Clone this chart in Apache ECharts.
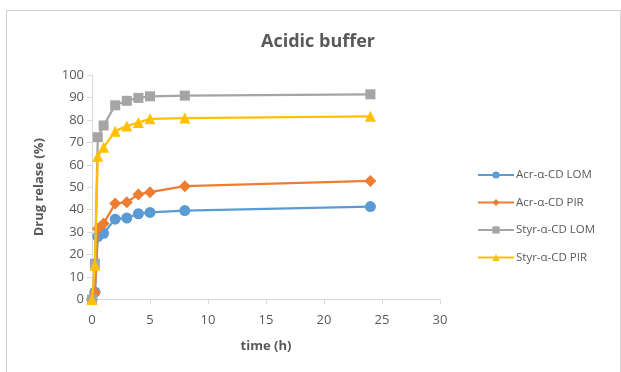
<!DOCTYPE html>
<html><head><meta charset="utf-8">
<script src="https://cdn.jsdelivr.net/npm/echarts@6/dist/echarts.min.js"></script>
<style>
html,body{margin:0;padding:0;background:#fff;}
#frame{position:absolute;left:6px;top:10px;width:613px;height:370px;border:1px solid #d0d0d0;border-right:1px solid #d9d9d9;}
#c{position:absolute;left:0;top:0;width:621px;height:372px;}
</style></head>
<body>
<div id="frame"></div>
<div id="c"></div>
<script>
const times = [0, 0.25, 0.5, 1, 2, 3, 4, 5, 8, 24];
const acrLOM  = [0, 3.3, 28, 29.5, 35.8, 36.3, 38.2, 38.8, 39.6, 41.4];
const acrPIR  = [0, 3.0, 31.5, 33.8, 42.8, 43.3, 46.8, 47.8, 50.5, 52.8];
const styrLOM = [0, 16, 72.3, 77.5, 86.5, 88.5, 89.8, 90.5, 90.8, 91.4];
const styrPIR = [0, 15.3, 63.8, 67.8, 75, 77.3, 78.8, 80.5, 80.8, 81.6];
const seriesNames = ['Acr-α-CD LOM', 'Acr-α-CD PIR', 'Styr-α-CD LOM', 'Styr-α-CD PIR'];
const colors = ['#5B9BD5', '#ED7D31', '#A5A5A5', '#FFC000'];
const symbols = ['circle', 'diamond', 'rect', 'triangle'];
const symbolSizes = [11, 12, 10, 11];
const allData = [acrLOM, acrPIR, styrLOM, styrPIR];

const font = 'Open Sans, Liberation Sans, sans-serif';
const chart = echarts.init(document.getElementById('c'));
chart.setOption({
  animation: false,
  backgroundColor: 'transparent',
  title: {
    text: 'Acidic buffer', left: 313, top: 28, textAlign: 'center',
    textStyle: { fontFamily: font, fontSize: 18, fontWeight: 'bold', color: '#595959' }
  },
  legend: {
    orient: 'vertical', left: 472, top: 164, itemGap: 15.5,
    itemWidth: 36, itemHeight: 9,
    textStyle: { fontFamily: font, fontSize: 11.5, color: '#595959', padding: [0, 0, 0, -3] },
    data: seriesNames
  },
  grid: { left: 92, right: 181, top: 75, bottom: 72.5 },
  xAxis: {
    type: 'value', min: 0, max: 30, interval: 5,
    name: 'time (h)', nameLocation: 'middle', nameGap: 40,
    nameTextStyle: { fontFamily: font, fontSize: 13, fontWeight: 'bold', color: '#595959' },
    axisLine: { show: true, onZero: false, lineStyle: { color: '#d9d9d9', width: 1 } },
    axisTick: { show: true, length: 5, lineStyle: { color: '#d9d9d9' } },
    axisLabel: { fontFamily: font, fontSize: 13, color: '#595959', margin: 14 },
    splitLine: { show: false }
  },
  yAxis: {
    type: 'value', min: 0, max: 100, interval: 10,
    name: 'Drug relase (%)', nameLocation: 'middle', nameGap: 46,
    nameTextStyle: { fontFamily: font, fontSize: 13, fontWeight: 'bold', color: '#595959' },
    axisLine: { show: true, lineStyle: { color: '#d9d9d9', width: 1 } },
    axisTick: { show: true, length: 5, lineStyle: { color: '#d9d9d9' } },
    axisLabel: { fontFamily: font, fontSize: 13, color: '#595959', margin: 8 },
    splitLine: { show: false }
  },
  series: allData.map((d, i) => ({
    name: seriesNames[i], type: 'line',
    data: times.map((t, j) => [t, d[j]]),
    symbol: symbols[i], symbolSize: symbolSizes[i], showAllSymbol: true,
    lineStyle: { color: colors[i], width: 2.25 },
    itemStyle: { color: colors[i] },
    z: 2 + i
  }))
});
</script>
</body></html>
